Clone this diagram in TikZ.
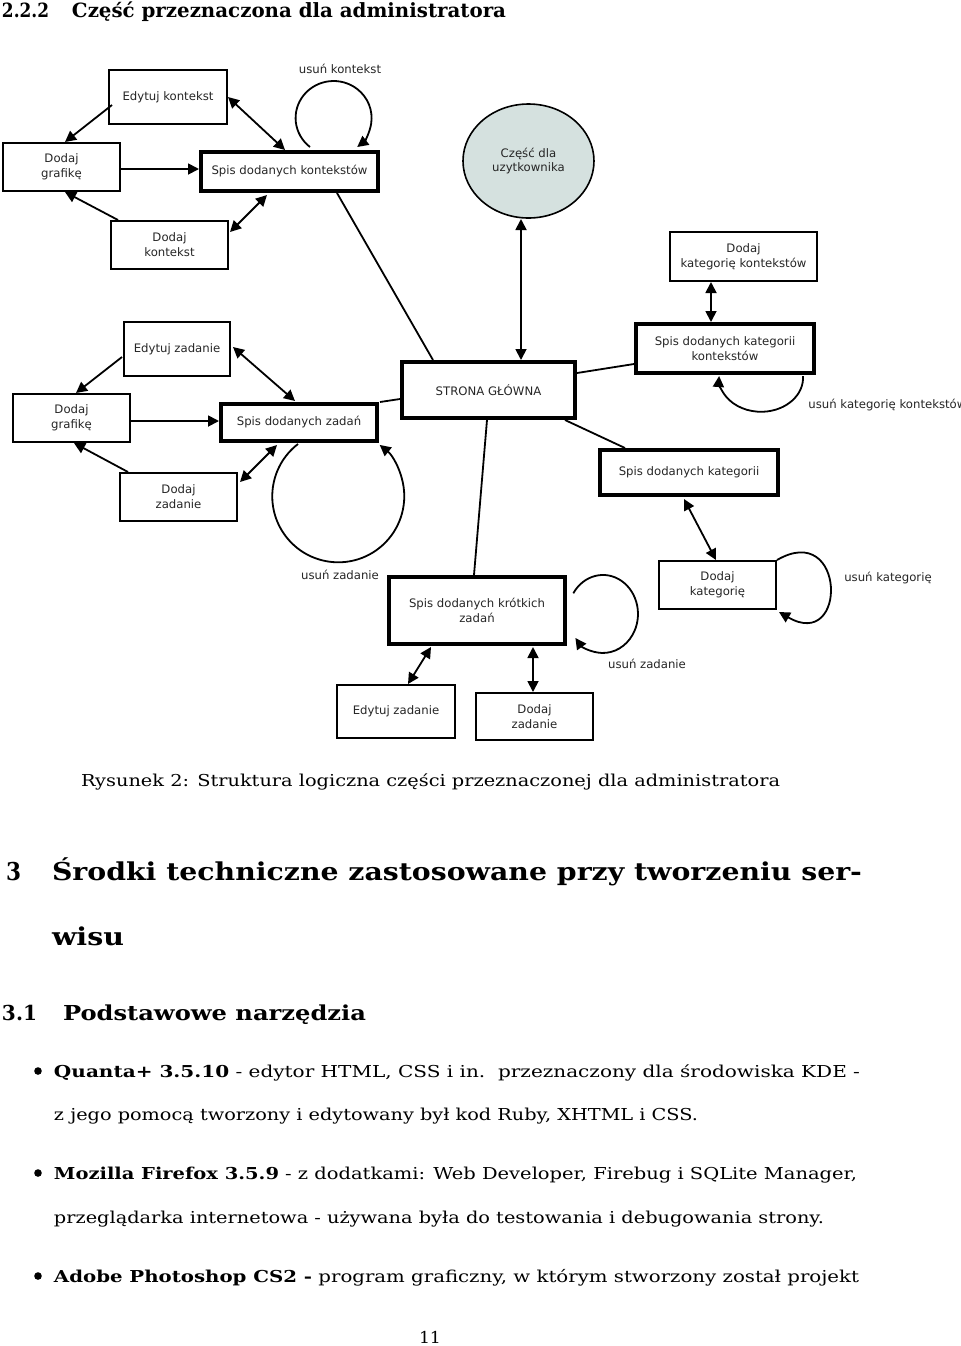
\documentclass[tikz,border=0pt]{standalone}
\usepackage{fontspec}
\usepackage{graphicx}
\setmainfont{DejaVu Serif}
\newfontfamily\diagfont{DejaVu Sans}
\usetikzlibrary{arrows.meta,calc,shapes.geometric}
\definecolor{userfill}{RGB}{213,225,223}
\newcommand{\fitline}[3]{\resizebox{#1pt}{\height}{\fontsize{#2}{#2}\selectfont #3}}
\tikzset{
  dtext/.style={font=\diagfont\fontsize{5.85}{7.4}\selectfont, text=black!85, align=center},
  wh/.style 2 args={minimum width=#1pt, minimum height=#2pt},
  thinbox/.style={draw, rectangle, line width=1pt, inner sep=0pt, dtext},
  thickbox/.style={draw, rectangle, line width=2pt, inner sep=0pt, dtext},
  conn/.style={line width=0.9pt},
  arr/.style={conn, -{Triangle[length=5.5pt,width=5.5pt]}},
  darr/.style={conn, {Triangle[length=5.5pt,width=5.5pt]}-{Triangle[length=5.5pt,width=5.5pt]}},
  lbl/.style={dtext, inner sep=0pt},
  ptext/.style={anchor=base west, inner sep=0pt, outer sep=0pt},
  bulletdot/.style={circle, fill=black, inner sep=0pt, minimum size=3.8pt},
}
\begin{document}
\begin{tikzpicture}[x=0.5pt,y=0.5pt]
\fill[white] (0,0) rectangle (960,-1346);
\useasboundingbox (0,0) rectangle (960,-1346);

% ---------- page text ----------
\node[ptext] (t0a) at (2,-17) {\fitline{23.5}{9.8}{\bfseries 2.2.2}};
\node[ptext] (t0b) at (72,-17) {\fitline{217}{9.8}{\bfseries Część przeznaczona dla administratora}};
\node[ptext] (cap) at (81,-786) {\fitline{349.5}{8.2}{Rysunek 2: Struktura logiczna części przeznaczonej dla administratora}};
\node[ptext] (h3n) at (6,-880) {\fitline{7.5}{12.3}{\bfseries 3}};
\node[ptext] (h3a) at (52,-880) {\fitline{405}{12.3}{\bfseries Środki techniczne zastosowane przy tworzeniu ser-}};
\node[ptext] (h3b) at (52,-945) {\fitline{36}{12.3}{\bfseries wisu}};
\node[ptext] (h31n) at (2,-1020) {\fitline{17.5}{10.3}{\bfseries 3.1}};
\node[ptext] (h31a) at (63,-1020) {\fitline{151.5}{10.3}{\bfseries Podstawowe narzędzia}};
\node[bulletdot] (b1) at (38,-1071) {};
\node[ptext] (l1) at (54,-1077) {\fitline{403}{8.2}{{\bfseries Quanta+ 3.5.10} - edytor HTML, CSS i in.\ \ przeznaczony dla środowiska KDE -}};
\node[ptext] (l2) at (54,-1120) {\fitline{322}{8.2}{z jego pomocą tworzony i edytowany był kod Ruby, XHTML i CSS.}};
\node[bulletdot] (b2) at (38,-1173) {};
\node[ptext] (l3) at (54,-1179) {\fitline{401.5}{8.2}{{\bfseries Mozilla Firefox 3.5.9} - z dodatkami: Web Developer, Firebug i SQLite Manager,}};
\node[ptext] (l4) at (54,-1223) {\fitline{385}{8.2}{przeglądarka internetowa - używana była do testowania i debugowania strony.}};
\node[bulletdot] (b3) at (38,-1276) {};
\node[ptext] (l5) at (54,-1282) {\fitline{402.5}{8.2}{{\bfseries Adobe Photoshop CS2 -} program graficzny, w którym stworzony został projekt}};
\node[ptext] (pn) at (419,-1343) {\fitline{11}{8.2}{11}};

% ---------- diagram nodes ----------
\node[thinbox, wh={59}{27}] (ek) at (168,-97) {Edytuj kontekst};
\node[thinbox, wh={58.5}{24}] (dg1) at (61.5,-167) {Dodaj\\grafikę};
\node[thickbox, wh={88.5}{19.5}] (sk) at (289.5,-171.5) {Spis dodanych kontekstów};
\node[thinbox, wh={58.5}{24}] (dk) at (169.5,-245) {Dodaj\\kontekst};
\node[ellipse, draw, line width=0.8pt, fill=userfill, inner sep=0pt, wh={65.5}{57}, dtext] (cu) at (528.5,-161) {Część dla\\uzytkownika};
\node[thinbox, wh={73.5}{24.5}] (dkk) at (743.5,-256.5) {Dodaj\\kategorię kontekstów};
\node[thickbox, wh={89}{24.5}] (skk) at (725,-348.5) {Spis dodanych kategorii\\kontekstów};
\node[thinbox, wh={53}{27}] (ez1) at (177,-349) {Edytuj zadanie};
\node[thickbox, wh={86.5}{28}] (sg) at (488.5,-390) {STRONA GŁÓWNA};
\node[thinbox, wh={58.5}{24}] (dg2) at (71.5,-418) {Dodaj\\grafikę};
\node[thickbox, wh={78}{18.5}] (sz) at (299,-422.5) {Spis dodanych zadań};
\node[thinbox, wh={58.5}{24}] (dz1) at (178.5,-497) {Dodaj\\zadanie};
\node[thickbox, wh={89}{22.5}] (skat) at (689,-472.5) {Spis dodanych kategorii};
\node[thinbox, wh={58.5}{24}] (dkat) at (717.5,-585) {Dodaj\\kategorię};
\node[thickbox, wh={88}{33.5}] (skz) at (477,-610.5) {Spis dodanych krótkich\\zadań};
\node[thinbox, wh={59}{26.5}] (ez2) at (396,-711.5) {Edytuj zadanie};
\node[thinbox, wh={58.5}{23.5}] (dz2) at (534.5,-716.5) {Dodaj\\zadanie};

% loop labels
\node[lbl] (lk) at (340,-69) {usuń kontekst};
\node[lbl, anchor=west] (lkk) at (808,-405) {usuń kategorię kontekstów};
\node[lbl] (lz1) at (340,-575) {usuń zadanie};
\node[lbl] (lkat) at (888,-578) {usuń kategorię};
\node[lbl] (lz2) at (647,-664) {usuń zadanie};

% ---------- connectors ----------
\draw[arr] ($(ek)+(-56,-8)$) -- ($(dg1)+(3.5,25)$);
\draw[darr] ($(ek)+(60,0)$) -- ($(sk)+(-4.5,21.5)$);
\draw[arr] ($(dg1)+(59.5,-2)$) -- ($(sk)+(-90.5,2.5)$);
\draw[arr] ($(dk)+(-51.5,25)$) -- ($(dg1)+(3.5,-25)$);
\draw[darr] ($(dk)+(60.5,13)$) -- ($(sk)+(-22.5,-23.5)$);
\draw[conn] ($(sk)+(47.5,-21.5)$) -- ($(sg)+(-55.5,30)$);
\draw[arr] ($(sk)+(20.5,24.5)$) arc[start angle=231.6, end angle=-51.6, x radius=19pt, y radius=18.5pt];
\draw[darr] ($(cu)+(-7.5,-58)$) -- ($(sg)+(32.5,30)$);
\draw[darr] ($(dkk)+(-32.5,-25.5)$) -- ($(skk)+(-14,26.5)$);
\draw[conn] ($(sg)+(88.5,17)$) -- ($(skk)+(-91,-15.5)$);
\draw[arr] ($(skk)+(78,-27.5)$) arc[start angle=3, end angle=-183, x radius=21pt, y radius=17pt];
\draw[conn] ($(sz)+(81,20.5)$) -- ($(sg)+(-88.5,-9)$);
\draw[arr] ($(ez1)+(-55,-8)$) -- ($(dg2)+(4.5,25)$);
\draw[darr] ($(ez1)+(56,2)$) -- ($(sz)+(-4,21.5)$);
\draw[arr] ($(dg2)+(59.5,-3)$) -- ($(sz)+(-80,1.5)$);
\draw[arr] ($(dz1)+(-50.5,25)$) -- ($(dg2)+(2.5,-25)$);
\draw[darr] ($(dz1)+(61.5,15)$) -- ($(sz)+(-22,-22.5)$);
\draw[arr] ($(sz)+(-1,-21.5)$) arc[start angle=127.6, end angle=411.1, radius=33pt];
\draw[conn] ($(sg)+(-1.5,-30)$) -- ($(skz)+(-3,35.5)$);
\draw[conn] ($(sg)+(76.5,-30)$) -- ($(skat)+(-64,24.5)$);
\draw[darr] ($(skat)+(-5,-26.5)$) -- ($(dkat)+(-1.5,25)$);
\draw[arr] ($(dkat)+(59.5,25)$) .. controls +(69,40) and +(69,-40) .. ($(dkat)+(61.5,-27)$);
\draw[darr] ($(skz)+(-46,-36.5)$) -- ($(ez2)+(12,27.5)$);
\draw[darr] ($(skz)+(56,-36.5)$) -- ($(dz2)+(-1.5,24.5)$);
\draw[arr] ($(skz)+(96.3,17.2)$) arc[start angle=148, end angle=-142, x radius=17.5pt, y radius=19.5pt];
\end{tikzpicture}
\end{document}
